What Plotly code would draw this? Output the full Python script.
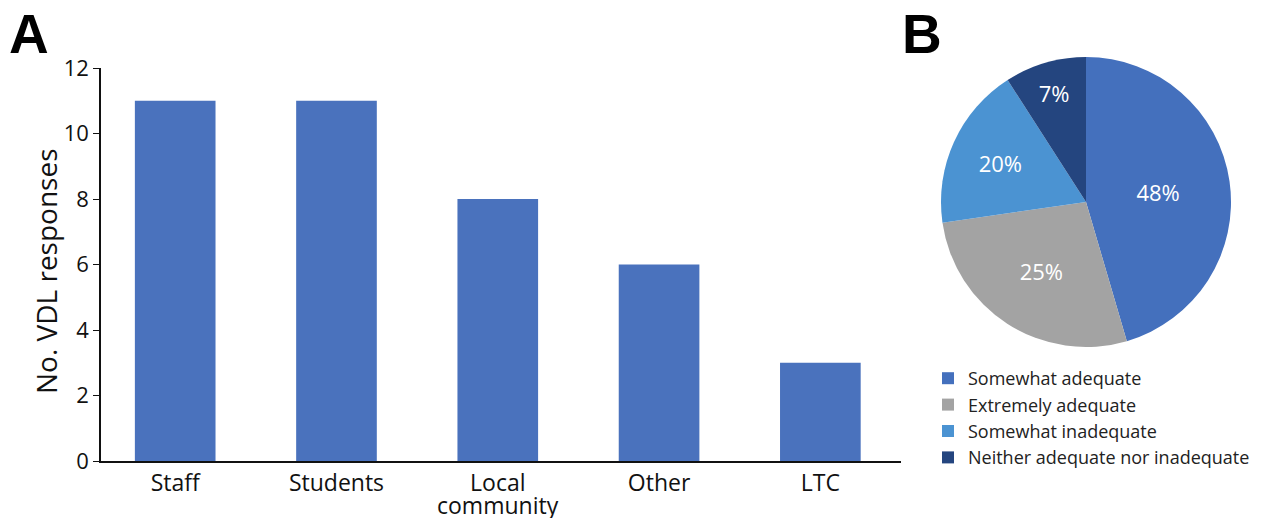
import plotly.graph_objects as go

# Panel A data
categories = ["Staff", "Students", "Local community", "Other", "LTC"]
tick_line1 = ["Staff", "Students", "Local", "Other", "LTC"]
tick_line2 = ["", "", "community", "", ""]
responses = [11, 11, 8, 6, 3]
y_ticks = [0, 2, 4, 6, 8, 10, 12]
y_title = "No. VDL responses"

# Panel B data
pie_labels = ["Somewhat adequate", "Extremely adequate", "Somewhat inadequate",
              "Neither adequate nor inadequate"]
pie_values = [20, 12, 8, 4]
pie_text = ["48%", "25%", "20%", "7%"]
pie_colors = ["#4470bd", "#a3a3a3", "#4b93d2", "#24457f"]

OFF = 8  # page body offset
W, H = 1270 - OFF, 518 - OFF
FONT = "Open Sans"


def px(x):
    return (x - OFF) / W


def py(y):
    return (H - (y - OFF)) / H


fig = go.Figure()

fig.add_trace(go.Bar(
    x=categories, y=responses,
    marker=dict(color="#4a72bd", line=dict(width=0)),
    width=0.5, showlegend=False, xaxis="x", yaxis="y",
))

fig.add_trace(go.Pie(
    labels=pie_labels, values=pie_values, text=pie_text,
    textinfo="text", sort=False, direction="clockwise", rotation=0,
    marker=dict(colors=pie_colors, line=dict(width=0)),
    textfont=dict(family=FONT, size=22, color="white"),
    insidetextorientation="horizontal",
    domain=dict(x=[px(941), px(1231)], y=[py(347), py(57)]),
    showlegend=True,
))

annotations = [
    dict(text=y_title, textangle=-90, x=px(46), y=py(271), xref="paper", yref="paper",
         xanchor="center", yanchor="middle", showarrow=False,
         font=dict(size=28, family=FONT, color="#111111")),
    dict(text="<b>A</b>", x=px(28.5), y=py(34), xref="paper", yref="paper",
         xanchor="center", yanchor="middle", showarrow=False,
         font=dict(size=55, family="Liberation Sans", color="black")),
    dict(text="<b>B</b>", x=px(922), y=py(34), xref="paper", yref="paper",
         xanchor="center", yanchor="middle", showarrow=False,
         font=dict(size=55, family="Liberation Sans", color="black")),
]
for cat, line2 in zip(categories, tick_line2):
    if line2:
        annotations.append(dict(
            text=line2, x=cat, y=py(505), xref="x", yref="paper",
            xanchor="center", yanchor="middle", showarrow=False,
            font=dict(size=23, family=FONT, color="#111111")))

fig.update_layout(
    width=W, height=H,
    margin=dict(l=0, r=0, t=0, b=0, autoexpand=False),
    paper_bgcolor="white", plot_bgcolor="white",
    font=dict(family=FONT, color="#111111"),
    xaxis=dict(
        domain=[px(101), px(901)],
        range=[-0.46, 4.5], automargin=False,
        tickmode="array", tickvals=categories, ticktext=tick_line1,
        showline=True, linecolor="#111111", linewidth=2,
        ticks="", showgrid=False, zeroline=False,
        tickfont=dict(size=23, family=FONT, color="#111111"),
        fixedrange=True,
    ),
    yaxis=dict(
        domain=[py(461), py(68)],
        range=[0, 12], tickvals=y_ticks, automargin=False,
        showline=True, linecolor="#111111", linewidth=1.5,
        ticks="outside", ticklen=6, tickcolor="#111111",
        showgrid=False, zeroline=False,
        tickfont=dict(size=22, family=FONT, color="#111111"),
    ),
    legend=dict(
        x=px(928), xanchor="left", y=py(360), yanchor="top",
        font=dict(size=18, family=FONT, color="#222222"),
        tracegroupgap=0, itemsizing="constant",
        bgcolor="rgba(0,0,0,0)",
    ),
    annotations=annotations,
)

fig.write_html("out.html")
